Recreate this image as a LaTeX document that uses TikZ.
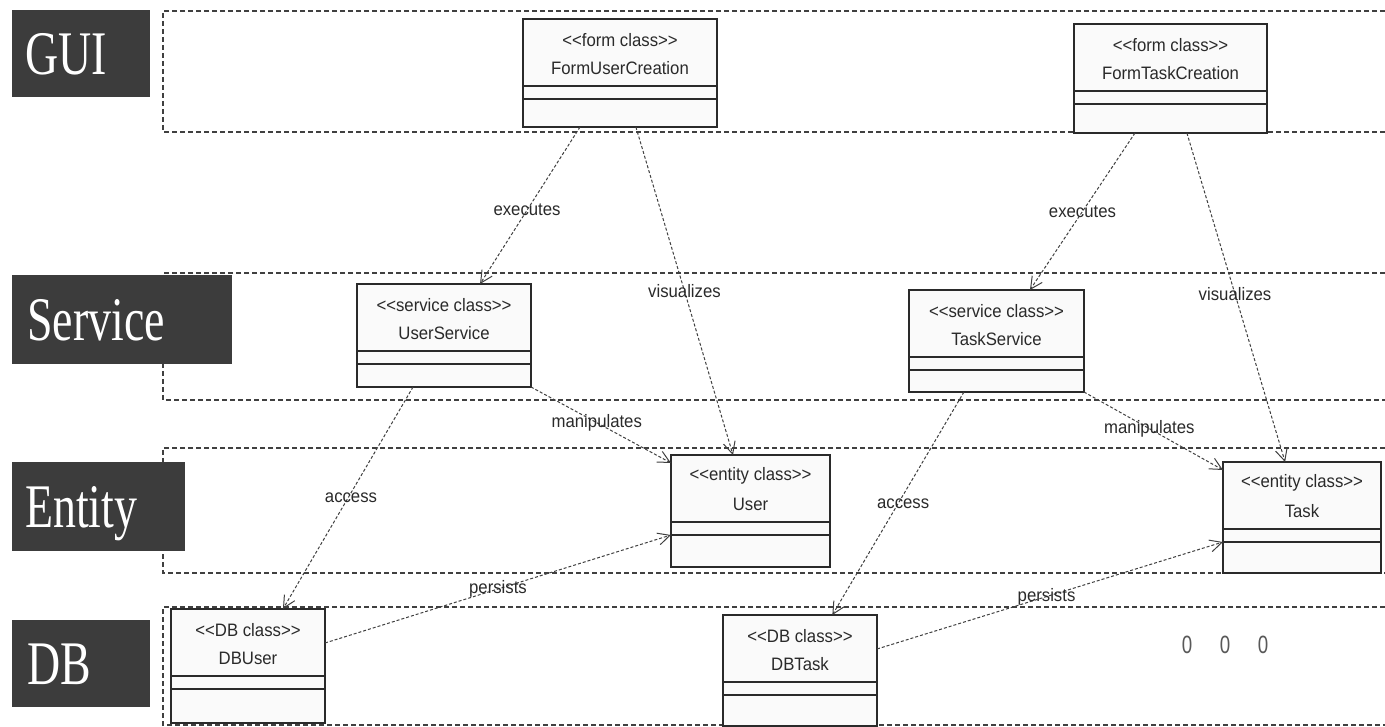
\documentclass[tikz,border=0pt]{standalone}
\usepackage{fontspec}
\newfontfamily\layerfont{Liberation Serif}[FakeStretch=0.74]
\newfontfamily\umlfont{Liberation Sans}[FakeStretch=0.93]
\newfontfamily\markfont{Liberation Sans}[FakeStretch=0.75]
\usetikzlibrary{arrows.meta,calc}

\definecolor{layergray}{HTML}{3C3C3C}
\definecolor{inkgray}{HTML}{2A2A2A}
\definecolor{dashgray}{HTML}{404040}

\tikzset{
  layerbox/.style={fill=layergray, draw=none, anchor=north west, inner sep=0pt, outer sep=0pt},
  layertext/.style={font=\layerfont\fontsize{62}{62}\selectfont, text=white, anchor=base west, inner sep=0pt},
  lane/.style={draw=dashgray, line width=1.2pt, dash pattern=on 5pt off 3pt},
  classbox/.style={draw=inkgray, line width=1.1pt, fill=black!2, inner sep=0pt, outer sep=0pt},
  divider/.style={draw=inkgray, line width=1.1pt},
  umltext/.style={font=\umlfont\fontsize{18}{20}\selectfont, text=inkgray, inner sep=0pt},
  lbl/.style={font=\umlfont\fontsize{18}{20}\selectfont, text=inkgray, inner sep=0pt},
  conn/.style={draw=dashgray, line width=1pt, dash pattern=on 3pt off 2pt,
    -{Straight Barb[length=12pt,width=12pt,line width=1pt]}},
  dotmark/.style={font=\markfont\fontsize{25}{25}\selectfont, text=black!65, inner sep=0pt},
}

% UML class with three compartments:
% name, left, top, right, bottom, stereotype, class name
\newcommand\umlclass[7]{%
  \node[classbox, anchor=north west, minimum width={#4-#2}, minimum height={#5-#3}] (#1) at (#2,#3) {};
  \draw[divider] ([yshift=-67pt]#1.north west) -- ([yshift=-67pt]#1.north east);
  \draw[divider] ([yshift=-80pt]#1.north west) -- ([yshift=-80pt]#1.north east);
  \node[umltext] (#1-stereo) at ([yshift=-21pt]#1.north) {#6};
  \node[umltext] (#1-name) at ([yshift=-49pt]#1.north) {#7};
}

\begin{document}
\begin{tikzpicture}[x=1pt,y=-1pt]
\useasboundingbox (0,0) rectangle (1385,727);
\fill[white] (0,0) rectangle (1385,727);

% layer lanes (open to the right)
\draw[lane] (1385,11) -- (163,11) -- (163,132) -- (1385,132);
\draw[lane] (1385,273) -- (163,273) -- (163,400) -- (1385,400);
\draw[lane] (1385,448) -- (163,448) -- (163,573) -- (1385,573);
\draw[lane] (1385,607) -- (163,607) -- (163,725) -- (1385,725);

% layer captions, drawn over the lanes
\node[layerbox, minimum width=138, minimum height=87] (guibox) at (12,10) {};
\node[layertext] (guitext) at (25,75) {GUI};
\node[layerbox, minimum width=220, minimum height=89] (servicebox) at (12,275) {};
\node[layertext] (servicetext) at (27,341) {Service};
\node[layerbox, minimum width=173, minimum height=89] (entitybox) at (12,462) {};
\node[layertext] (entitytext) at (25,527) {Entity};
\node[layerbox, minimum width=138, minimum height=87] (dbbox) at (12,620) {};
\node[layertext] (dbtext) at (27,684) {DB};

% classes
\umlclass{fuc}{523}{19}{717}{127}{<{}<form class>{}>}{FormUserCreation}
\umlclass{ftc}{1074}{24}{1267}{133}{<{}<form class>{}>}{FormTaskCreation}
\umlclass{us}{357}{284}{531}{387}{<{}<service class>{}>}{UserService}
\umlclass{ts}{909}{290}{1084}{392}{<{}<service class>{}>}{TaskService}
\umlclass{user}{671}{455}{830}{567}{<{}<entity class>{}>}{User}
\umlclass{task}{1223}{462}{1381}{573}{<{}<entity class>{}>}{Task}
\umlclass{dbu}{171}{609}{325}{723}{<{}<DB class>{}>}{DBUser}
\umlclass{dbt}{723}{615}{877}{726}{<{}<DB class>{}>}{DBTask}

% dependencies
\draw[conn] ($(fuc.south west)!.294!(fuc.south east)$)
  -- node[lbl,pos=.53] {executes} ($(us.north west)!.707!(us.north east)$);
\draw[conn] ($(fuc.south west)!.582!(fuc.south east)$)
  -- node[lbl,pos=.5] {visualizes} ($(user.north west)!.39!(user.north east)$);
\draw[conn] ($(ftc.south west)!.316!(ftc.south east)$)
  -- node[lbl,pos=.5] {executes} ($(ts.north west)!.691!(ts.north east)$);
\draw[conn] ($(ftc.south west)!.585!(ftc.south east)$)
  -- node[lbl,pos=.49] {visualizes} ($(task.north west)!.393!(task.north east)$);

\draw[conn] (us.south east)
  -- node[lbl,pos=.47] {manipulates} ([yshift=-8pt]user.north west);
\draw[conn] (ts.south east)
  -- node[lbl,pos=.47] {manipulates} ([yshift=-8pt]task.north west);

\draw[conn] ($(us.south west)!.322!(us.south east)$)
  -- node[lbl,pos=.5,xshift=3pt] {access} ($(dbu.north west)!.727!(dbu.north east)$);
\draw[conn] ($(ts.south west)!.314!(ts.south east)$)
  -- node[lbl,pos=.5,xshift=5pt] {access} ($(dbt.north west)!.71!(dbt.north east)$);

\draw[conn] ([yshift=-34pt]dbu.north east)
  -- node[lbl,pos=.5] {persists} ([yshift=-80pt]user.north west);
\draw[conn] ([yshift=-34pt]dbt.north east)
  -- node[lbl,pos=.49] {persists} ([yshift=-80pt]task.north west);

% ellipsis marks
\node[dotmark] (dot1) at (1187,645) {0};
\node[dotmark] (dot2) at (1225,645) {0};
\node[dotmark] (dot3) at (1263,645) {0};
\end{tikzpicture}
\end{document}
